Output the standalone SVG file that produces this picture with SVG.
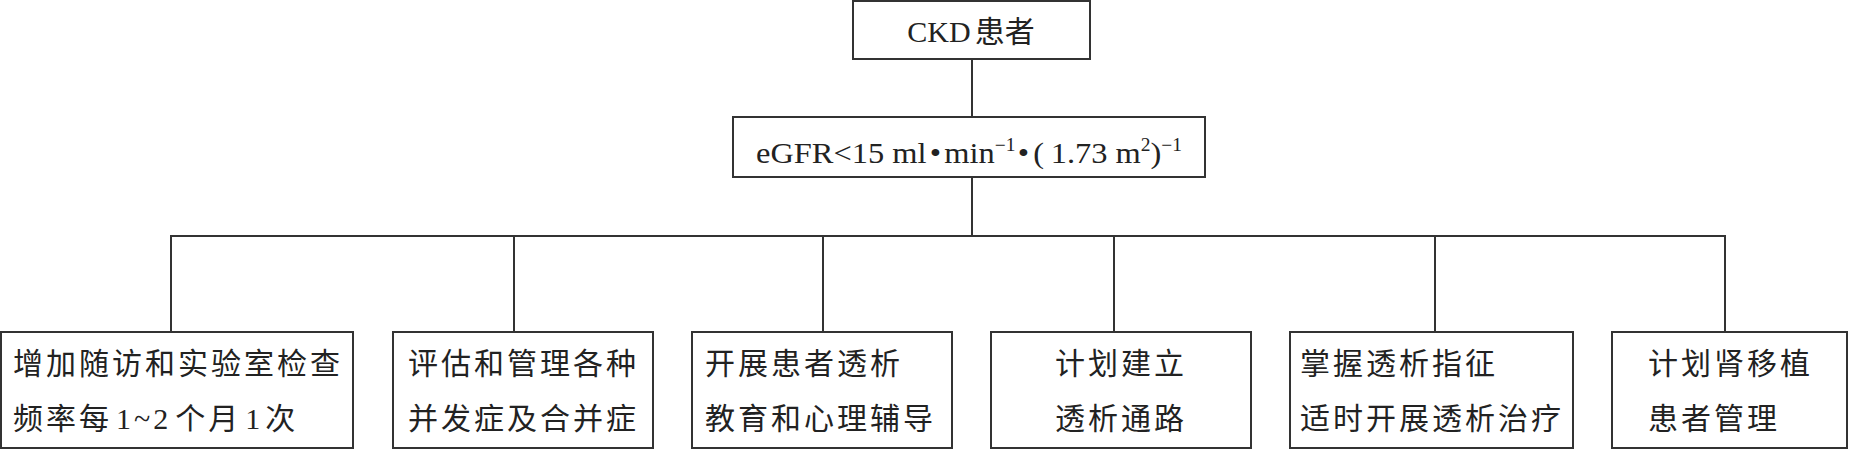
<svg xmlns="http://www.w3.org/2000/svg" width="1849" height="450" viewBox="0 0 1849 450">
<style>
.box{fill:#fff;stroke:#333;stroke-width:2}
.conn{stroke:#333;stroke-width:2;fill:none}
.lat{font-family:"Liberation Serif","Noto Sans CJK SC",serif;font-size:30px;fill:#222}
.cjk{font-family:"Liberation Serif","Noto Sans CJK SC",serif;font-size:30px;fill:#222;letter-spacing:3px}
</style>
<rect width="1849" height="450" fill="#fff"/>
<g id="connectors" class="conn">
<line x1="972" y1="59" x2="972" y2="117"/>
<line x1="972" y1="177" x2="972" y2="236"/>
<polyline points="171,332 171,236 1725,236 1725,332"/>
<line x1="514" y1="236" x2="514" y2="332"/>
<line x1="823" y1="236" x2="823" y2="332"/>
<line x1="1114" y1="236" x2="1114" y2="332"/>
<line x1="1435" y1="236" x2="1435" y2="332"/>
</g>
<g id="n-ckd">
<rect class="box" x="853" y="1" width="237" height="58"/>
<text class="lat" x="971" y="42" text-anchor="middle">CKD<tspan dx="4">患者</tspan></text>
</g>
<g id="n-egfr">
<rect class="box" x="733" y="117" width="472" height="60"/>
<text class="lat" x="969" y="163" text-anchor="middle" textLength="426" lengthAdjust="spacingAndGlyphs">eGFR&lt;15 ml<tspan dx="3">•</tspan><tspan dx="3">min</tspan><tspan font-size="18" dy="-12">−1</tspan><tspan dy="12" dx="2">•</tspan><tspan dx="4">(</tspan><tspan dx="6">1.73 m</tspan><tspan font-size="18" dy="-12">2</tspan><tspan dy="12">)</tspan><tspan font-size="18" dy="-12">−1</tspan></text>
</g>
<g id="n1">
<rect class="box" x="1" y="332" width="352" height="116"/>
<text class="cjk" x="13" y="374">增加随访和实验室检查</text>
<text class="cjk" x="13" y="429">频率每<tspan dx="4">1~2</tspan><tspan dx="4">个月</tspan><tspan dx="4">1</tspan><tspan dx="2">次</tspan></text>
</g>
<g id="n2">
<rect class="box" x="393" y="332" width="260" height="116"/>
<text class="cjk" x="408" y="374">评估和管理各种</text>
<text class="cjk" x="408" y="429">并发症及合并症</text>
</g>
<g id="n3">
<rect class="box" x="692" y="332" width="260" height="116"/>
<text class="cjk" x="705" y="374">开展患者透析</text>
<text class="cjk" x="705" y="429">教育和心理辅导</text>
</g>
<g id="n4">
<rect class="box" x="991" y="332" width="260" height="116"/>
<text class="cjk" x="1055" y="374">计划建立</text>
<text class="cjk" x="1055" y="429">透析通路</text>
</g>
<g id="n5">
<rect class="box" x="1290" y="332" width="283" height="116"/>
<text class="cjk" x="1300" y="374">掌握透析指征</text>
<text class="cjk" x="1300" y="429">适时开展透析治疗</text>
</g>
<g id="n6">
<rect class="box" x="1612" y="332" width="235" height="116"/>
<text class="cjk" x="1648" y="374">计划肾移植</text>
<text class="cjk" x="1648" y="429">患者管理</text>
</g>
</svg>
